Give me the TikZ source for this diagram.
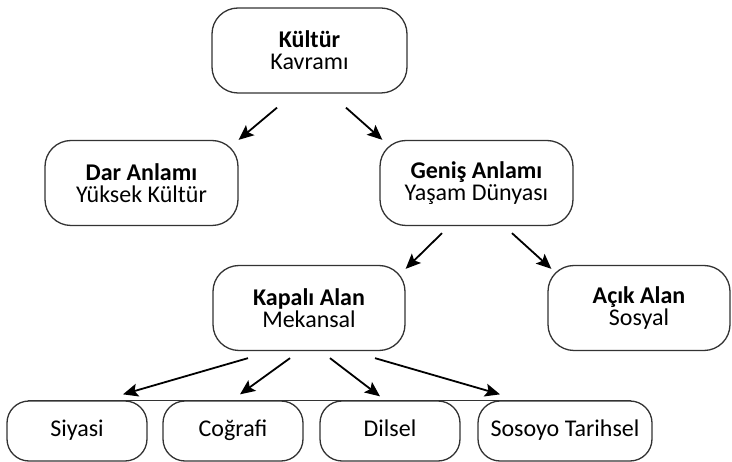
\documentclass[tikz,border=0pt]{standalone}
\usepackage{fontspec}
\setmainfont{Carlito}
\usetikzlibrary{arrows.meta}
\tikzset{
  kutu/.style={draw=black!80, line width=1.3pt, rounded corners=26pt, align=center,
    inner sep=0pt, minimum height=85pt, font=\fontsize{24}{22}\selectfont},
  altkutu/.style={kutu, rounded corners=22pt, minimum height=60pt,
    text height=17pt, text depth=5pt},
  ok/.style={-{Stealth[length=15pt,width=13pt,inset=3pt]}, line width=1.8pt},
}
\begin{document}
\begin{tikzpicture}[x=1pt, y=-1pt]
    \useasboundingbox (0,0) rectangle (732,462);
    % kavram
    \node[kutu, minimum width=195pt] (kultur) at (309.5,50.5) {\textbf{Kültür}\\Kavramı};
    % dar ve geniş anlam
    \node[kutu, minimum width=193pt] (dar) at (141.5,183) {\textbf{Dar Anlamı}\\Yüksek Kültür};
    \node[kutu, minimum width=193pt] (genis) at (476.5,183) {\textbf{Geniş Anlamı}\\Yaşam Dünyası};
    % alanlar
    \node[kutu, minimum width=192pt] (kapali) at (309,308) {\textbf{Kapalı Alan}\\Mekansal};
    \node[kutu, minimum width=182pt] (acik) at (639,308) {\textbf{Açık Alan}\\Sosyal};
    % alt kutular
    \node[altkutu, minimum width=140pt] (siyasi) at (77,431) {Siyasi};
    \node[altkutu, minimum width=140pt] (cografi) at (233,431) {Coğrafi};
    \node[altkutu, minimum width=140pt] (dilsel) at (390,431) {Dilsel};
    \node[altkutu, minimum width=174pt] (tarihsel) at (565,431) {Sosoyo Tarihsel};
    \draw[draw=black!80, line width=1.3pt, shorten <=22pt, shorten >=22pt]
        (siyasi.north west) -- (tarihsel.north east);

    % oklar
    \draw[ok] ([xshift=-32.5pt,yshift=-14pt]kultur.south) -- (dar.north east);
    \draw[ok] ([xshift=36.5pt,yshift=-14pt]kultur.south) -- ([xshift=3pt]genis.north west);
    \draw[ok] ([xshift=-34.5pt,yshift=-7pt]genis.south) -- ([yshift=-4pt]kapali.north east);
    \draw[ok] ([xshift=35.5pt,yshift=-7pt]genis.south) -- ([xshift=4pt,yshift=-4pt]acik.north west);
    \draw[ok] ([xshift=-61pt,yshift=-7pt]kapali.south) -- ([xshift=46pt,yshift=6pt]siyasi.north);
    \draw[ok] ([xshift=-19pt,yshift=-7pt]kapali.south) -- ([xshift=7pt,yshift=6pt]cografi.north);
    \draw[ok] ([xshift=21pt,yshift=-7pt]kapali.south) -- ([xshift=-10pt,yshift=4pt]dilsel.north);
    \draw[ok] ([xshift=66pt,yshift=-7pt]kapali.south) -- ([xshift=-65pt,yshift=6pt]tarihsel.north);
\end{tikzpicture}
\end{document}
